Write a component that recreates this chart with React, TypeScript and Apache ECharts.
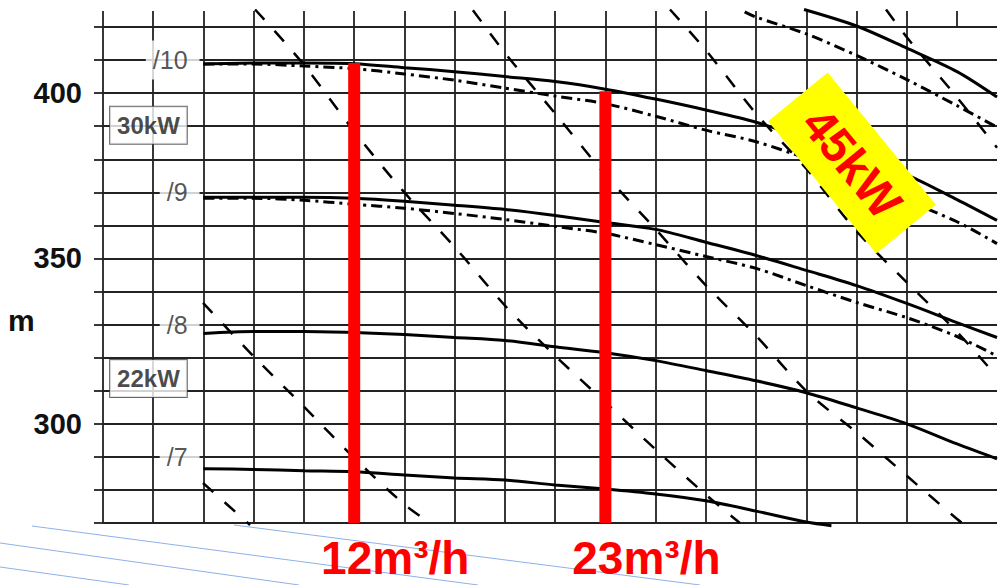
import React, { useEffect, useRef } from 'react';
import * as echarts from 'echarts';

// Flow (m³/h) at each vertical grid line where the head curves were read
const flowGrid = [5.4, 7.6, 9.8, 12, 14.2, 16.4, 18.6, 20.8, 23, 25.2, 27.4, 29.6, 31.8, 34, 36.2, 38.4, 40.15];

// Head (m) of each impeller curve, read at flowGrid
const head10 = [408.8, 409.1, 409.1, 408.9, 407.7, 406.5, 405.0, 403.5, 401.2, 398.2, 394.9, 391.2, 386.1, 380.7, 375.3, 367.8, 361.5];
const head10Alt = [408.8, 408.8, 408.2, 407.4, 405.8, 403.9, 401.5, 399.1, 396.8, 393.0, 388.8, 385.3, 380.2, 374.0, 367.5, 361.1, 354.5];
const head9 = [368.5, 368.5, 368.5, 368.2, 367.3, 366.1, 364.8, 363.0, 360.9, 358.8, 354.9, 350.9, 346.4, 341.8, 336.4, 330.6, 326.1];
const head9Alt = [368.2, 368.2, 367.6, 366.4, 365.2, 363.6, 361.8, 359.7, 357.6, 354.2, 350.6, 347.0, 341.8, 336.7, 332.1, 326.4, 320.5];
const head8 = [327.3, 327.9, 327.9, 327.6, 327.0, 326.1, 325.2, 323.3, 321.5, 319.1, 316.1, 313.0, 309.4, 304.8, 300.0, 293.9, 289.4];
const head7 = [286.4, 286.2, 285.8, 285.5, 284.5, 283.6, 283.0, 281.5, 280.3, 278.8, 276.7, 273.6, 270.3, 269.2];
const head7Flow = [5.4, 7.6, 9.8, 12, 14.2, 16.4, 18.6, 20.8, 23, 25.2, 27.4, 29.6, 31.8, 32.9];

// Upper curve (only its falling end is visible)
const head11Flow = [31.7, 34.0, 36.2, 38.4, 40.15];
const head11 = [425.3, 420.3, 413.6, 406.5, 398.8];
const head11AltFlow = [29.1, 29.6, 31.8, 34.0, 36.2, 38.4, 40.15];
const head11Alt = [424.6, 423.0, 417.9, 411.4, 404.1, 396.2, 389.7];

// Dashed (power) lines, [flow, head]
const powerLineA = [[7.66, 425.3], [9.71, 409.3], [12.04, 388.1], [14.09, 370.8], [16.46, 353.0], [18.69, 335.1], [20.84, 320.3], [23.03, 306.3], [25.22, 292.1], [27.41, 278.5], [28.89, 270.0]];
const powerLineB = [[5.38, 336.6], [7.61, 320.3], [9.85, 304.8], [12.04, 289.4], [14.22, 275.5], [15.32, 270.0]];
const powerLineC = [[5.38, 282.1], [7.44, 269.4]];
const powerLineD = [[17.2, 425.1], [18.69, 411.4], [20.84, 393.5], [23.03, 375.1], [25.22, 358.7], [27.41, 341.8], [29.6, 326.6], [31.83, 309.7], [34.02, 297.3], [36.21, 284.2], [38.4, 271.2], [38.62, 270.0]];
const powerLineE = [[25.83, 425.3], [27.41, 412.9], [29.6, 393.8], [31.83, 376.9], [34.02, 358.1], [36.21, 342.7], [38.4, 327.8], [40.15, 314.2]];
const powerLineF = [[35.29, 425.3], [36.21, 416.8], [38.4, 398.7], [40.15, 383.5]];

// Operating points (red bars)
const flowMarks = [12, 23];
const flowMarkHeads = [409.1, 400.6];

// Labels
const stageLabels = ['/10', '/9', '/8', '/7'];
const stageLabelHeads = [410, 370, 330, 290];
const powerLabels = ['30kW', '22kW'];
const powerLabelHeads = [390.3, 313.7];
const yTickLabels = [300, 350, 400];
const gridCells = [0, 1, 2, 3, 4, 5, 6, 7, 8, 9, 10, 11, 12, 13, 14, 15, 16, 17];

const FONT = '"Liberation Sans", Arial, sans-serif';
const GRID = { color: '#222', width: 1.8 };

export default function App() {
  const ref = useRef<HTMLDivElement>(null);

  useEffect(() => {
    const chart = echarts.init(ref.current!, null, { renderer: 'svg' });
    const zip = (qs: number[], hs: number[]) => hs.map((h, i) => [qs[i], h]);
    const curve = (data: number[][], type: any, width: number) => ({
      type: 'line',
      xAxisIndex: 0,
      yAxisIndex: 0,
      data,
      symbol: 'none',
      smooth: 0.3,
      clip: false,
      silent: true,
      z: 2,
      lineStyle: { color: '#000', width, type, cap: 'butt' },
    });
    const dashDot = [11, 5, 3, 5];
    const dashed = [14, 15];

    const series: any[] = [
      curve(zip(flowGrid, head10), 'solid', 3),
      curve(zip(flowGrid, head10Alt), dashDot, 3),
      curve(zip(flowGrid, head9), 'solid', 3),
      curve(zip(flowGrid, head9Alt), dashDot, 3),
      curve(zip(flowGrid, head8), 'solid', 3),
      curve(zip(head7Flow, head7), 'solid', 3),
      curve(zip(head11Flow, head11), 'solid', 3),
      curve(zip(head11AltFlow, head11Alt), dashDot, 3),
      curve(powerLineA, dashed, 2.5),
      curve(powerLineB, dashed, 2.5),
      curve(powerLineC, dashed, 2.5),
      curve(powerLineD, dashed, 2.5),
      curve(powerLineE, dashed, 2.5),
      curve(powerLineF, dashed, 2.5),
    ];
    flowMarks.forEach((q, i) => {
      series.push({
        type: 'line',
        data: [[q, 270], [q, flowMarkHeads[i]]],
        symbol: 'none',
        clip: false,
        silent: true,
        z: 4,
        lineStyle: { color: '#ff0000', width: 12, cap: 'butt' },
      });
    });
    series.push({
      type: 'scatter',
      data: stageLabels.map((t, i) => ({ name: t, value: [5.25, stageLabelHeads[i]] })),
      symbolSize: 1,
      itemStyle: { color: 'rgba(0,0,0,0)' },
      silent: true,
      z: 6,
      label: {
        show: true,
        position: 'left',
        distance: 0,
        formatter: '{b}',
        fontSize: 25,
        color: '#2a2a2a',
        fontFamily: FONT,
        backgroundColor: '#fff',
        padding: [7, 12, 7, 7],
      },
    });
    series.push({
      type: 'scatter',
      data: powerLabels.map((t, i) => ({ name: t, value: [2.99, powerLabelHeads[i]] })),
      symbolSize: 1,
      itemStyle: { color: 'rgba(0,0,0,0)' },
      silent: true,
      z: 6,
      label: {
        show: true,
        position: 'inside',
        formatter: '{b}',
        fontSize: 24,
        fontWeight: 'bold',
        color: '#1a1a1a',
        fontFamily: FONT,
        backgroundColor: '#fff',
        borderColor: '#444',
        borderWidth: 1,
        padding: [7, 7, 6, 7],
      },
    });

    chart.setOption({
      animation: false,
      backgroundColor: '#fff',
      grid: { left: 103, right: 11, top: 27, bottom: 62, containLabel: false, outerBoundsMode: 'none' },
      xAxis: [
        { type: 'value', min: 1, max: 40.15, show: false },
        {
          type: 'value',
          position: 'top',
          min: 0,
          max: 17.795,
          interval: 1,
          axisLine: { show: false },
          axisLabel: { show: false },
          axisTick: { show: true, inside: false, length: 16, customValues: gridCells, lineStyle: GRID },
          splitLine: { show: true, showMaxLine: false, lineStyle: GRID },
        },
      ],
      yAxis: {
        type: 'value',
        min: 270,
        max: 420,
        interval: 10,
        axisLine: { show: false },
        axisTick: { show: true, inside: false, length: 9, lineStyle: GRID },
        splitLine: { show: true, lineStyle: GRID },
        axisLabel: {
          margin: 21,
          fontSize: 29,
          fontWeight: 'bold',
          color: '#111',
          fontFamily: FONT,
          formatter: (v: number) => (yTickLabels.includes(Math.round(v)) ? String(Math.round(v)) : ''),
        },
      },
      series,
    });

    const flowLabelGraphics = flowMarks.map((q) => {
      const px = chart.convertToPixel({ xAxisIndex: 0 }, q) as number;
      return {
        type: 'text',
        x: px + 41,
        y: 558,
        z: 100,
        silent: true,
        style: {
          text: `${q}m³/h`,
          align: 'center',
          verticalAlign: 'middle',
          fontSize: 46,
          fontWeight: 'bold',
          fontFamily: FONT,
          fill: '#ff0000',
        },
      };
    });

    const blue = { stroke: '#8fb0ea', lineWidth: 1 };
    chart.setOption({
      graphic: [
        { type: 'line', z: 100, silent: true, shape: { x1: 32, y1: 526, x2: 478, y2: 585 }, style: blue },
        { type: 'line', z: 100, silent: true, shape: { x1: 234, y1: 525, x2: 700, y2: 585 }, style: blue },
        { type: 'line', z: 100, silent: true, shape: { x1: 0, y1: 543, x2: 299, y2: 585 }, style: blue },
        { type: 'line', z: 100, silent: true, shape: { x1: 0, y1: 567, x2: 129, y2: 585 }, style: blue },
        {
          type: 'text',
          x: 8,
          y: 320,
          z: 100,
          silent: true,
          style: { text: 'm', align: 'left', verticalAlign: 'middle', fontSize: 30, fontWeight: 'bold', fontFamily: FONT, fill: '#111' },
        },
        {
          type: 'group',
          x: 852,
          y: 163,
          rotation: -0.885,
          z: 100,
          silent: true,
          children: [
            { type: 'rect', z: 100, shape: { x: -85.5, y: -38.5, width: 171, height: 77 }, style: { fill: '#ffff00' } },
            {
              type: 'text',
              z: 101,
              x: 0,
              y: 0,
              style: { text: '45kW', align: 'center', verticalAlign: 'middle', fontSize: 48, fontWeight: 'bold', fontFamily: FONT, fill: '#ff0000' },
            },
          ],
        },
        ...flowLabelGraphics,
      ],
    });

    return () => chart.dispose();
  }, []);

  return (
    <div
      ref={ref}
      style={{ position: 'fixed', left: 0, top: 0, width: 1008, height: 585, background: '#fff' }}
    />
  );
}
